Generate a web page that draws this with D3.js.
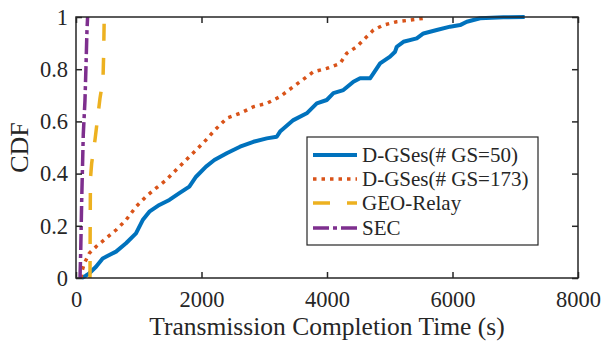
<!DOCTYPE html>
<html>
<head>
<meta charset="utf-8">
<script src="https://cdn.jsdelivr.net/npm/d3@7"></script>
<style>
  body { margin: 0; background: #fff; }
  svg text { font-family: "Liberation Serif", "Times New Roman", serif; fill: #262626; }
</style>
</head>
<body>
<div id="chart"></div>
<script>
// CDF curves: time (s) vs cumulative fraction
var gs50Time = [90, 150, 212, 319, 425, 531, 638, 797, 956, 1063, 1169, 1328, 1488, 1647, 1806, 1913, 2072, 2205, 2402, 2614, 2827, 3040, 3199, 3252, 3464, 3677, 3837, 3996, 4102, 4261, 4421, 4527, 4686, 4740, 4846, 5005, 5085, 5112, 5218, 5430, 5537, 5749, 5962, 6121, 6228, 6440, 6811, 7150];
var gs50Cdf  = [0, 0.008, 0.018, 0.043, 0.075, 0.088, 0.101, 0.133, 0.171, 0.222, 0.254, 0.28, 0.299, 0.325, 0.35, 0.388, 0.427, 0.452, 0.478, 0.503, 0.522, 0.535, 0.541, 0.561, 0.605, 0.631, 0.669, 0.682, 0.708, 0.72, 0.752, 0.765, 0.765, 0.784, 0.822, 0.848, 0.867, 0.886, 0.905, 0.918, 0.937, 0.95, 0.963, 0.969, 0.982, 0.995, 0.999, 1];

var gs173Time = [80, 100, 133, 212, 319, 478, 638, 797, 956, 1116, 1275, 1435, 1594, 1753, 1913, 2072, 2205, 2402, 2614, 2827, 3040, 3252, 3464, 3677, 3783, 3996, 4208, 4315, 4474, 4580, 4740, 4899, 5112, 5324, 5537, 5600];
var gs173Cdf  = [0, 0.03, 0.056, 0.095, 0.12, 0.152, 0.184, 0.222, 0.273, 0.312, 0.344, 0.375, 0.414, 0.452, 0.49, 0.529, 0.565, 0.612, 0.631, 0.656, 0.669, 0.695, 0.733, 0.771, 0.79, 0.803, 0.822, 0.861, 0.886, 0.912, 0.95, 0.969, 0.982, 0.988, 0.995, 1];

var geoTime = [223, 226, 230, 250, 303, 383, 430, 440, 450];
var geoCdf  = [0, 0.2, 0.38, 0.44, 0.53, 0.69, 0.76, 0.85, 1];

var secTime = [64, 75, 91, 116, 143, 159, 175, 185];
var secCdf  = [0, 0.1, 0.3, 0.55, 0.68, 0.81, 0.95, 1];

var seriesNames = ["D-GSes(# GS=50)", "D-GSes(# GS=173)", "GEO-Relay", "SEC"];
var seriesColors = ["#0072BD", "#D95319", "#EDB120", "#7E2F8E"];

var xTicks = [0, 2000, 4000, 6000, 8000];
var yTicks = [0, 0.2, 0.4, 0.6, 0.8, 1];

var W = 603, H = 343;
var margin = {top: 17, right: 25, bottom: 65, left: 76};
var width = W - margin.left - margin.right,
    height = H - margin.top - margin.bottom;

var svg = d3.select("#chart").append("svg")
    .attr("width", W)
    .attr("height", H);

var g = svg.append("g")
    .attr("transform", "translate(" + margin.left + "," + margin.top + ")");

var x = d3.scaleLinear().domain([0, 8000]).range([0, width]);
var y = d3.scaleLinear().domain([0, 1]).range([height, 0]);

var series = [
    {time: gs50Time, cdf: gs50Cdf, dash: null, w: 4},
    {time: gs173Time, cdf: gs173Cdf, dash: "3.5,5", w: 3.5},
    {time: geoTime, cdf: geoCdf, dash: "17,17", w: 3.5},
    {time: secTime, cdf: secCdf, dash: "16,4,4,4", w: 3.5}
];

var line = d3.line()
    .x(function(d) { return x(d[0]); })
    .y(function(d) { return y(d[1]); });

series.forEach(function(s, i) {
    var pts = s.time.map(function(t, j) { return [t, s.cdf[j]]; });
    g.append("path")
        .datum(pts)
        .attr("fill", "none")
        .attr("stroke", seriesColors[i])
        .attr("stroke-width", s.w)
        .attr("stroke-dasharray", s.dash)
        .attr("stroke-linejoin", "round")
        .attr("d", line);
});

// axes, inward ticks on all four sides
var axisColor = "#262626";
var xAxis = g.append("g")
    .attr("transform", "translate(0," + height + ")")
    .call(d3.axisBottom(x).tickValues(xTicks).tickSize(-6).tickSizeOuter(0).tickPadding(13).tickFormat(d3.format("d")));
var yAxis = g.append("g")
    .call(d3.axisLeft(y).tickValues(yTicks).tickSize(-6).tickSizeOuter(0).tickPadding(8).tickFormat(function(d) { return d === 0 || d === 1 ? d : d.toFixed(1); }));
var topAxis = g.append("g")
    .call(d3.axisTop(x).tickValues(xTicks).tickSize(-6).tickSizeOuter(0).tickFormat(""));
var rightAxis = g.append("g")
    .attr("transform", "translate(" + width + ",0)")
    .call(d3.axisRight(y).tickValues(yTicks).tickSize(-6).tickSizeOuter(0).tickFormat(""));

[xAxis, yAxis, topAxis, rightAxis].forEach(function(a) {
    a.selectAll("path.domain").remove();
    a.selectAll("line").attr("stroke", axisColor).attr("stroke-width", 1.5);
    a.selectAll("text").style("font-size", "22.5px").attr("fill", axisColor);
});

g.append("rect")
    .attr("width", width)
    .attr("height", height)
    .attr("fill", "none")
    .attr("stroke", axisColor)
    .attr("stroke-width", 1.5);

// axis labels
svg.append("text")
    .attr("x", margin.left + width / 2)
    .attr("y", 335)
    .attr("text-anchor", "middle")
    .style("font-size", "25.5px")
    .text("Transmission Completion Time (s)");

svg.append("text")
    .attr("transform", "translate(28," + (margin.top + height / 2) + ") rotate(-90)")
    .attr("text-anchor", "middle")
    .style("font-size", "26px")
    .text("CDF");

// legend
var legend = svg.append("g").attr("transform", "translate(307,137)");
legend.append("rect")
    .attr("width", 231)
    .attr("height", 108)
    .attr("fill", "#fff")
    .attr("stroke", axisColor)
    .attr("stroke-width", 1.2);

var rowY = [18, 42, 66, 91];
seriesNames.forEach(function(name, i) {
    legend.append("line")
        .attr("x1", 6).attr("x2", 50)
        .attr("y1", rowY[i]).attr("y2", rowY[i])
        .attr("stroke", seriesColors[i])
        .attr("stroke-width", series[i].w)
        .attr("stroke-dasharray", series[i].dash);
    legend.append("text")
        .attr("x", 55)
        .attr("y", rowY[i])
        .attr("dy", "0.34em")
        .style("font-size", "21px")
        .text(name);
});
</script>
</body>
</html>
